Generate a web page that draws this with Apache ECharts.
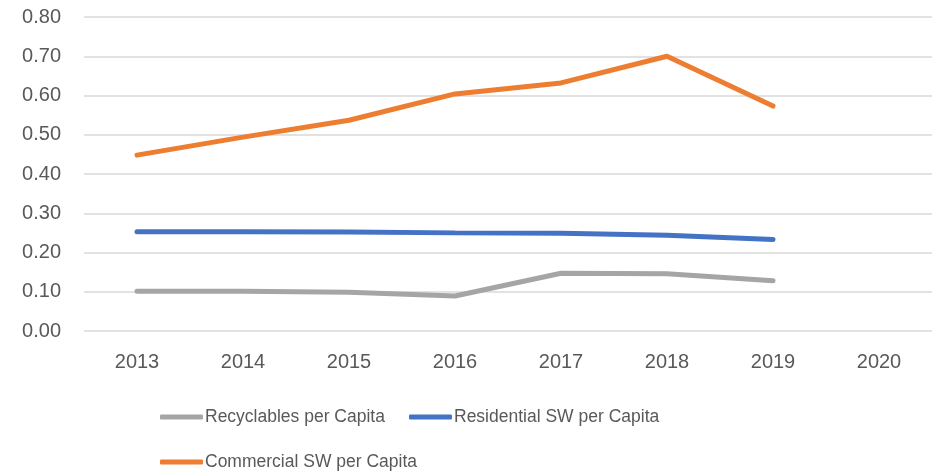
<!DOCTYPE html>
<html><head><meta charset="utf-8">
<script src="https://cdn.jsdelivr.net/npm/echarts@6/dist/echarts.min.js"></script>
<style>html,body{margin:0;padding:0;background:#fff}#c{width:936px;height:473px}</style>
</head><body><div id="c"></div>
<script>
const years = ['2013','2014','2015','2016','2017','2018','2019','2020'];
const recyclables = [0.101, 0.101, 0.099, 0.089, 0.147, 0.146, 0.128, null];
const residential = [0.253, 0.253, 0.252, 0.250, 0.249, 0.244, 0.233, null];
const commercial = [0.448, 0.494, 0.537, 0.604, 0.632, 0.700, 0.573, null];
const names = ['Recyclables per Capita','Residential SW per Capita','Commercial SW per Capita'];
const colors = ['#A5A5A5','#4472C4','#ED7D31'];
const font = 'Liberation Sans';
const chart = echarts.init(document.getElementById('c'));
const legendBase = {
  icon: 'roundRect', itemWidth: 43, itemHeight: 5, itemGap: 0, padding: 0,
  textStyle: {fontFamily: font, fontSize: 17.5, color: '#595959', padding:[0,0,0,-3]}
};
chart.setOption({
  animation: false,
  color: colors,
  grid: {left: 84, right: 4, top: 17, bottom: 142},
  legend: [
    Object.assign({}, legendBase, {data: [names[0]], left: 160, top: 408}),
    Object.assign({}, legendBase, {data: [names[1]], left: 409, top: 408}),
    Object.assign({}, legendBase, {data: [names[2]], left: 160, top: 453})
  ],
  xAxis: {
    type: 'category', data: years, boundaryGap: true,
    axisLine: {show: false}, axisTick: {show: false},
    axisLabel: {fontFamily: font, fontSize: 20, color: '#595959', margin: 21}
  },
  yAxis: {
    type: 'value', min: 0, max: 0.8, interval: 0.1,
    axisLine: {show: false}, axisTick: {show: false},
    axisLabel: {fontFamily: font, fontSize: 20, color: '#595959', margin: 23, formatter: v => v.toFixed(2)},
    splitLine: {lineStyle: {color: '#D9D9D9', width: 1.5}}
  },
  series: [
    {name: names[0], type: 'line', data: recyclables, symbol: 'none', lineStyle: {width: 5, color: colors[0], cap: 'round'}},
    {name: names[1], type: 'line', data: residential, symbol: 'none', lineStyle: {width: 5, color: colors[1], cap: 'round'}},
    {name: names[2], type: 'line', data: commercial, symbol: 'none', lineStyle: {width: 5, color: colors[2], cap: 'round'}}
  ]
});
</script></body></html>
